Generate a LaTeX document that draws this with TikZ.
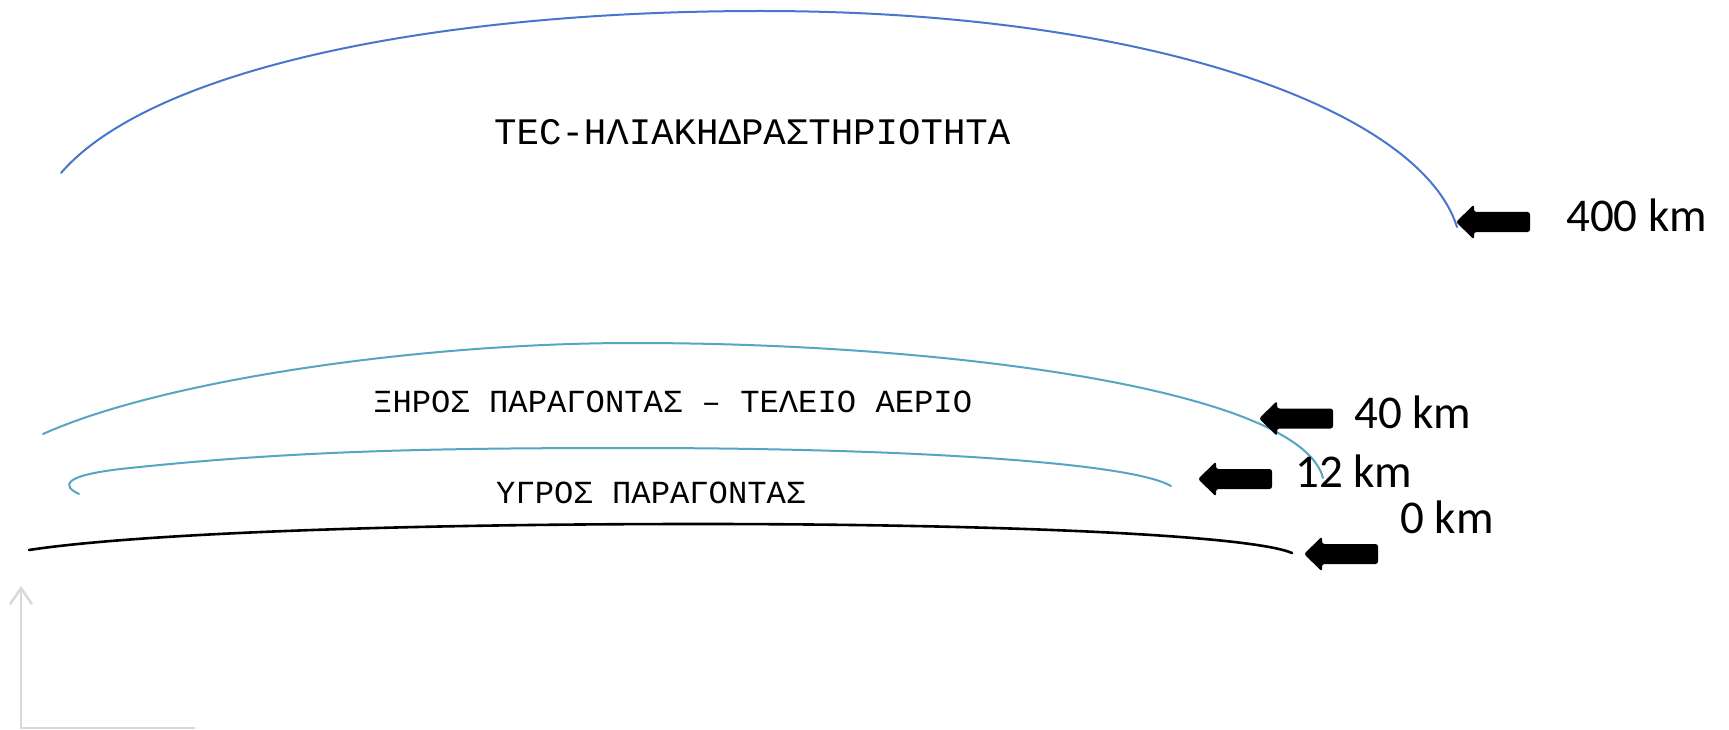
\documentclass[tikz,border=0pt]{standalone}
\usepackage{fontspec}
\setmainfont{Carlito}
\newfontfamily\monof{Liberation Mono}
\newfontfamily\labf{Carlito}
\usetikzlibrary{arrows.meta}
\definecolor{topblue}{RGB}{72,118,205}
\definecolor{aqua}{RGB}{85,165,195}
\definecolor{axisgrey}{RGB}{217,217,217}
\begin{document}
\begin{tikzpicture}[x=1pt,y=-1pt,
  layer/.style={line width=2pt, line cap=round},
  blockarrow/.style={fill=black, rounded corners=2.5pt},
  kmlabel/.style={anchor=base west, inner sep=0pt, font=\labf\fontsize{47}{50}\selectfont},
  bigmono/.style={anchor=base west, inner sep=0pt, font=\monof\fontsize{37.4}{40}\selectfont},
  mono/.style={anchor=base west, inner sep=0pt, font=\monof\fontsize{32.2}{35}\selectfont},
  axisline/.style={draw=axisgrey, line width=2.5pt}]
\useasboundingbox (0,0) rectangle (1729,730);
\fill[white] (0,0) rectangle (1729,730);

% layers
\draw[layer, topblue] (61,173) .. controls (150,70) and (430,11) .. (761,11)
  .. controls (1150,11) and (1420,110) .. (1457,227);
\draw[layer, aqua] (43,434) .. controls (163,380) and (420,343) .. (633,343)
  .. controls (950,343) and (1300,390) .. (1323,478);
\draw[layer, aqua] (79,494) .. controls (62,486) and (60,475) .. (130,468)
  .. controls (300,450) and (450,448) .. (633,448)
  .. controls (900,448) and (1130,462) .. (1171,486);
\draw[layer, black, line width=2.6pt] (29,550) .. controls (120,536) and (350,524) .. (700,524)
  .. controls (1000,524) and (1250,535) .. (1292,553);

% texts
\node[bigmono] (tec) at (494,145) {TEC-ΗΛΙΑΚΗΔΡΑΣΤΗΡΙΟΤΗΤΑ};
\node[mono] (dry) at (373,412) {ΞΗΡΟΣ ΠΑΡΑΓΟΝΤΑΣ – ΤΕΛΕΙΟ ΑΕΡΙΟ};
\node[mono] (wet) at (496,503) {ΥΓΡΟΣ ΠΑΡΑΓΟΝΤΑΣ};

% arrows
\coordinate (t400) at (1456,222);
\coordinate (t40) at (1259,418.5);
\coordinate (t12) at (1198,479);
\coordinate (t0) at (1304,554);
\foreach \t in {t400,t40,t12,t0}{
  \fill[blockarrow] (\t) -- ++(18,-17.5) -- ++(0,7.5) -- ++(56,0) -- ++(0,20)
    -- ++(-56,0) -- ++(0,7.5) -- cycle;
}

% labels
\node[kmlabel] (l400) at (1566,231) {400 km};
\node[kmlabel] (l40) at (1354,428) {40 km};
\node[kmlabel] (l12) at (1295,487) {12 km};
\node[kmlabel] (l0) at (1400,533) {0 km};

% axes
\coordinate (xend) at (195,728);
\coordinate (orig) at (21,728);
\coordinate (ytip) at (21,586);
\draw[axisline, line join=miter, -{Straight Barb[length=16pt,width=22pt,line width=2.5pt]}] (xend) -- (orig) -- (ytip);
\end{tikzpicture}
\end{document}
